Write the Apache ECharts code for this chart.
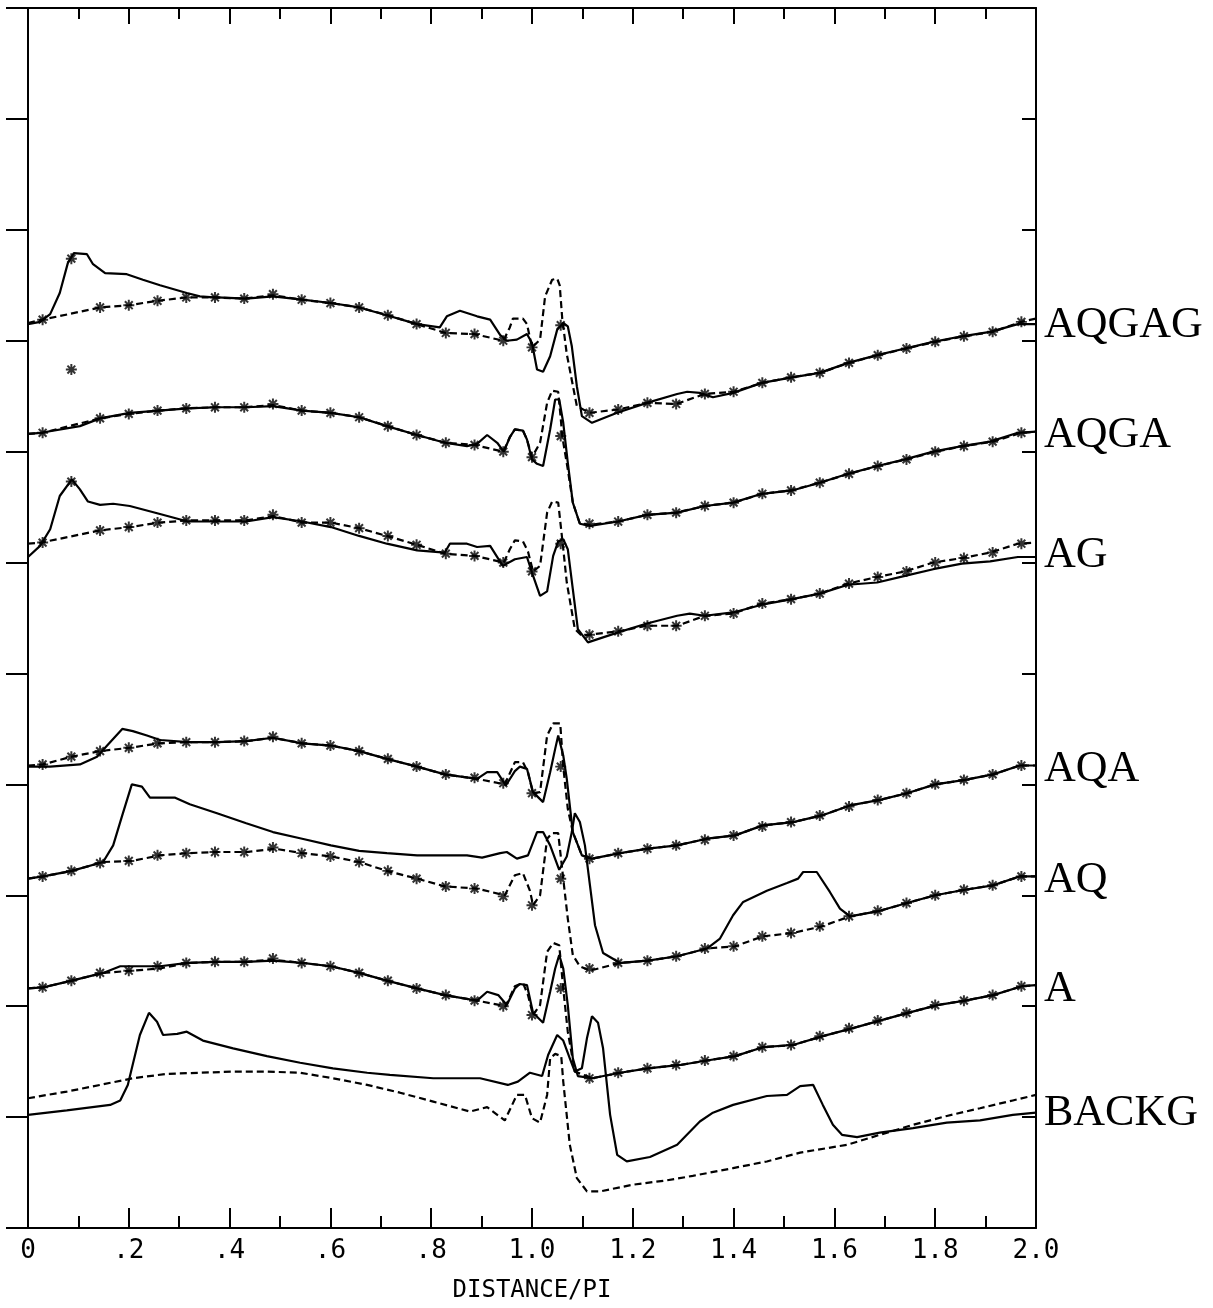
<!DOCTYPE html>
<html>
<head>
<meta charset="utf-8">
<script src="https://cdn.jsdelivr.net/npm/echarts@6/dist/echarts.min.js"></script>
<style>
html,body{margin:0;padding:0;background:#fff;}
#chart{width:1213px;height:1308px;}
</style>
</head>
<body>
<div id="chart"></div>
<script>
// ---------------- DATA (x = DISTANCE/PI, y = stacked trace value, 100 per tick) ----------------
const xTickLabels = ['0','.2','.4','.6','.8','1.0','1.2','1.4','1.6','1.8','2.0'];
const traceNames = ['AQGAG','AQGA','AG','AQA','AQ','A','BACKG'];
const starX = [0.029,0.086,0.143,0.2,0.257,0.314,0.371,0.429,0.486,0.543,0.6,0.657,0.714,0.771,0.829,0.886,0.943,1.0,1.057,1.114,1.171,1.229,1.286,1.343,1.4,1.457,1.514,1.571,1.629,1.686,1.743,1.8,1.857,1.914,1.971];

const aqgagObs = [[0,815],[0.024,817],[0.044,824],[0.063,843],[0.079,870],[0.091,879],[0.117,878],[0.129,869],[0.153,861],[0.196,860],[0.228,855],[0.262,850],[0.315,843],[0.341,840],[0.375,839],[0.433,838],[0.486,840],[0.544,837],[0.601,834],[0.657,830],[0.712,823],[0.772,815],[0.817,812],[0.831,822],[0.857,827],[0.891,822],[0.917,819],[0.937,805],[0.950,800],[0.970,801],[0.990,806],[1.0,798],[1.010,774],[1.022,772],[1.036,786],[1.050,810],[1.062,816],[1.071,813],[1.079,795],[1.089,759],[1.099,732],[1.119,726],[1.169,735],[1.228,744],[1.288,752],[1.308,754],[1.333,753],[1.359,749],[1.399,753],[1.456,762],[1.516,767],[1.571,771],[1.627,780],[1.685,787],[1.740,793],[1.796,799],[1.853,804],[1.909,808],[1.964,815],[2.0,815]];
const aqgagFit = [[0,816],[0.029,819],[0.143,830],[0.2,832],[0.257,836],[0.314,839],[0.371,839],[0.429,838],[0.486,841],[0.543,837],[0.6,834],[0.657,830],[0.714,823],[0.771,815],[0.829,807],[0.886,806],[0.943,800],[0.956,812],[0.962,820],[0.982,820],[0.990,815],[1.0,794],[1.016,801],[1.026,840],[1.040,855],[1.050,856],[1.055,850],[1.060,820],[1.069,788],[1.089,741],[1.114,735],[1.171,738],[1.229,744],[1.286,743],[1.343,752],[1.4,754],[1.457,762],[1.514,767],[1.571,771],[1.629,780],[1.686,787],[1.743,793],[1.8,799],[1.857,804],[1.914,808],[1.971,817],[2.0,820]];
const aqgagStars = [819,874,830,832,836,839,839,838,842,837,834,830,823,815,807,806,800,794,814,735,738,744,743,752,754,762,767,771,780,787,793,799,804,808,817];

const aqgaObs = [[0,716],[0.026,717],[0.103,723],[0.143,730],[0.202,735],[0.260,737],[0.317,739],[0.375,740],[0.433,740],[0.486,741],[0.544,737],[0.601,735],[0.657,731],[0.712,723],[0.772,715],[0.827,708],[0.871,705],[0.891,707],[0.911,715],[0.931,708],[0.944,700],[0.956,713],[0.966,720],[0.982,719],[0.990,711],[1.0,693],[1.010,689],[1.022,687],[1.036,720],[1.046,747],[1.054,747],[1.062,726],[1.071,690],[1.081,654],[1.095,635],[1.115,633],[1.171,637],[1.228,643],[1.288,645],[1.343,651],[1.399,654],[1.456,662],[1.516,665],[1.571,672],[1.627,680],[1.685,687],[1.740,693],[1.796,700],[1.853,705],[1.909,709],[1.964,717],[2.0,718]];
const aqgaFit = [[0,716],[0.029,717],[0.143,730],[0.2,734],[0.257,737],[0.314,739],[0.371,740],[0.429,740],[0.486,742],[0.543,737],[0.6,735],[0.657,731],[0.714,723],[0.771,715],[0.829,708],[0.886,706],[0.943,700],[0.956,713],[0.966,720],[0.982,719],[0.990,711],[1.0,695],[1.016,708],[1.030,744],[1.040,755],[1.052,754],[1.057,730],[1.060,714],[1.071,684],[1.081,654],[1.095,635],[1.114,634],[1.171,637],[1.229,643],[1.286,645],[1.343,651],[1.4,654],[1.457,662],[1.514,665],[1.571,672],[1.629,680],[1.686,687],[1.743,693],[1.8,700],[1.857,705],[1.914,709],[1.971,717],[2.0,718]];
const aqgaStars = [717,774,730,734,737,739,740,740,743,737,735,731,723,715,708,706,700,695,714,635,637,643,645,651,654,662,665,672,680,687,693,700,705,709,717];

const agObs = [[0,605],[0.024,615],[0.044,630],[0.063,660],[0.087,675],[0.103,666],[0.119,655],[0.143,652],[0.169,653],[0.202,651],[0.260,644],[0.317,637],[0.375,637],[0.433,637],[0.486,641],[0.544,637],[0.601,632],[0.657,624],[0.712,617],[0.772,611],[0.827,609],[0.837,617],[0.871,617],[0.891,614],[0.917,615],[0.942,597],[0.966,603],[0.990,605],[1.0,591],[1.016,570],[1.030,574],[1.042,606],[1.052,619],[1.062,621],[1.071,612],[1.081,576],[1.091,540],[1.111,528],[1.171,537],[1.228,545],[1.288,552],[1.313,554],[1.343,552],[1.399,555],[1.456,562],[1.516,567],[1.571,572],[1.627,580],[1.685,582],[1.740,588],[1.796,594],[1.853,599],[1.909,601],[1.964,605],[2.0,605]];
const agFit = [[0,617],[0.026,618],[0.143,629],[0.202,632],[0.260,636],[0.317,638],[0.375,638],[0.433,638],[0.486,642],[0.544,636],[0.601,636],[0.657,631],[0.712,624],[0.772,616],[0.827,608],[0.887,606],[0.944,600],[0.956,612],[0.966,620],[0.982,619],[0.992,610],[1.002,592],[1.016,597],[1.030,645],[1.040,655],[1.052,654],[1.060,621],[1.069,582],[1.085,540],[1.099,534],[1.115,535],[1.171,538],[1.228,543],[1.288,543],[1.343,552],[1.399,554],[1.456,563],[1.516,567],[1.571,572],[1.627,581],[1.685,587],[1.740,592],[1.796,600],[1.853,604],[1.909,609],[1.964,617],[2.0,618]];
const agStars = [618,673,629,632,636,638,638,638,643,636,636,631,624,616,608,606,600,592,617,535,538,543,543,552,554,563,567,572,581,587,592,600,604,609,617];

const aqaObs = [[0,416],[0.044,416],[0.103,418],[0.137,425],[0.157,435],[0.187,450],[0.208,448],[0.236,444],[0.262,440],[0.317,438],[0.375,438],[0.433,439],[0.486,442],[0.544,437],[0.601,435],[0.657,430],[0.712,423],[0.772,416],[0.827,409],[0.891,405],[0.911,411],[0.931,411],[0.948,399],[0.966,412],[0.976,416],[0.990,414],[1.002,393],[1.022,384],[1.036,411],[1.046,432],[1.052,444],[1.062,426],[1.069,405],[1.081,357],[1.099,336],[1.119,333],[1.175,338],[1.230,342],[1.288,345],[1.347,351],[1.403,354],[1.458,363],[1.518,366],[1.575,372],[1.631,381],[1.690,386],[1.744,392],[1.800,400],[1.859,404],[1.915,409],[1.968,417],[2.0,417]];
const aqaFit = [[0,417],[0.030,418],[0.087,425],[0.143,430],[0.202,433],[0.260,437],[0.317,438],[0.375,438],[0.433,439],[0.486,442],[0.544,437],[0.601,435],[0.657,430],[0.712,423],[0.772,416],[0.827,409],[0.891,405],[0.946,400],[0.966,420],[0.982,420],[0.992,411],[1.002,392],[1.016,393],[1.030,444],[1.042,455],[1.056,455],[1.062,416],[1.071,378],[1.081,357],[1.099,336],[1.119,333],[1.175,338],[1.230,342],[1.288,345],[1.347,351],[1.403,354],[1.458,363],[1.518,366],[1.575,372],[1.631,381],[1.690,386],[1.744,392],[1.800,400],[1.859,404],[1.915,409],[1.968,417],[2.0,417]];
const aqaStars = [418,425,430,433,437,438,438,439,443,437,435,430,423,416,409,406,401,392,416,333,338,342,345,350,354,362,366,372,380,386,392,400,404,409,417];

const aqObs = [[0,315],[0.030,317],[0.087,322],[0.149,330],[0.169,345],[0.187,372],[0.206,400],[0.226,398],[0.242,388],[0.292,388],[0.321,382],[0.375,374],[0.433,365],[0.486,357],[0.544,351],[0.601,345],[0.657,340],[0.712,338],[0.772,336],[0.827,336],[0.871,336],[0.901,334],[0.937,338],[0.950,339],[0.970,333],[0.992,336],[1.010,357],[1.022,357],[1.036,345],[1.054,323],[1.069,335],[1.079,357],[1.085,374],[1.095,366],[1.105,345],[1.115,309],[1.125,273],[1.141,248],[1.175,239],[1.230,241],[1.288,245],[1.347,252],[1.373,261],[1.399,282],[1.419,294],[1.466,304],[1.506,311],[1.528,315],[1.538,321],[1.565,321],[1.591,303],[1.611,288],[1.631,281],[1.690,286],[1.744,293],[1.800,300],[1.859,305],[1.915,309],[1.968,317],[2.0,317]];
const aqFit = [[0,315],[0.030,317],[0.087,322],[0.149,330],[0.206,331],[0.262,336],[0.317,338],[0.375,339],[0.433,339],[0.490,342],[0.544,338],[0.601,335],[0.657,330],[0.712,322],[0.772,315],[0.827,308],[0.891,306],[0.946,300],[0.966,318],[0.982,320],[0.996,304],[1.002,291],[1.016,300],[1.030,351],[1.040,356],[1.052,356],[1.062,315],[1.071,279],[1.081,246],[1.095,236],[1.115,232],[1.175,239],[1.230,241],[1.288,245],[1.347,252],[1.403,254],[1.458,263],[1.518,266],[1.575,272],[1.631,281],[1.690,286],[1.744,293],[1.800,300],[1.859,305],[1.915,309],[1.968,317],[2.0,317]];
const aqStars = [317,322,329,331,336,338,339,339,343,338,335,330,322,315,308,306,299,291,315,234,239,241,245,252,254,263,266,272,281,286,293,300,305,309,317];

const aObs = [[0,216],[0.030,217],[0.087,223],[0.149,230],[0.183,236],[0.206,236],[0.262,236],[0.317,239],[0.375,240],[0.433,240],[0.486,241],[0.544,239],[0.601,236],[0.657,230],[0.712,223],[0.772,216],[0.827,210],[0.891,205],[0.911,213],[0.933,210],[0.950,201],[0.966,216],[0.976,220],[0.990,219],[1.002,194],[1.022,185],[1.036,213],[1.046,234],[1.054,246],[1.062,234],[1.071,201],[1.081,153],[1.091,137],[1.119,135],[1.175,140],[1.230,144],[1.294,147],[1.347,151],[1.403,155],[1.458,163],[1.518,165],[1.577,173],[1.635,180],[1.690,187],[1.746,194],[1.804,201],[1.859,205],[1.915,210],[1.972,218],[2.0,219]];
const aFit = [[0,216],[0.030,217],[0.087,223],[0.149,230],[0.206,232],[0.262,234],[0.317,239],[0.375,240],[0.433,240],[0.486,242],[0.544,239],[0.601,236],[0.657,230],[0.712,223],[0.772,216],[0.827,210],[0.891,205],[0.948,200],[0.966,218],[0.982,221],[0.992,210],[1.002,192],[1.016,201],[1.030,249],[1.042,257],[1.054,255],[1.062,216],[1.071,177],[1.085,141],[1.119,135],[1.175,140],[1.230,144],[1.294,147],[1.347,151],[1.403,155],[1.458,163],[1.518,165],[1.577,173],[1.635,180],[1.690,187],[1.746,194],[1.804,201],[1.859,205],[1.915,210],[1.972,218],[2.0,219]];
const aStars = [217,223,230,232,236,239,240,240,243,239,236,230,223,216,210,205,200,192,216,135,140,144,147,151,155,163,165,173,180,187,194,201,205,210,218];

const backgObs = [[0,102],[0.077,106],[0.163,111],[0.183,115],[0.198,129],[0.222,174],[0.240,194],[0.256,186],[0.268,174],[0.296,175],[0.315,177],[0.347,169],[0.407,162],[0.474,155],[0.540,149],[0.605,144],[0.673,140],[0.718,138],[0.804,135],[0.897,135],[0.952,129],[0.972,132],[0.996,140],[1.020,137],[1.032,156],[1.050,174],[1.062,169],[1.075,153],[1.085,141],[1.099,144],[1.109,171],[1.119,191],[1.131,185],[1.141,162],[1.155,102],[1.169,66],[1.188,60],[1.234,64],[1.288,75],[1.333,96],[1.359,104],[1.399,111],[1.466,119],[1.506,120],[1.532,128],[1.558,129],[1.577,111],[1.597,93],[1.615,84],[1.645,82],[1.690,86],[1.756,90],[1.823,95],[1.889,97],[1.954,102],[2.0,104]];
const backgFit = [[0,117],[0.077,123],[0.143,129],[0.208,135],[0.276,139],[0.341,140],[0.407,141],[0.474,141],[0.540,140],[0.605,135],[0.673,129],[0.738,122],[0.804,114],[0.877,105],[0.911,109],[0.946,97],[0.970,120],[0.986,120],[1.000,99],[1.016,95],[1.030,120],[1.036,153],[1.046,157],[1.058,155],[1.062,132],[1.075,75],[1.089,45],[1.109,33],[1.135,33],[1.200,39],[1.268,43],[1.319,47],[1.399,54],[1.466,60],[1.532,68],[1.625,75],[1.690,84],[1.756,93],[1.823,101],[1.889,108],[1.954,115],[2.0,120]];

// ---------------- CHART ----------------
const chart = echarts.init(document.getElementById('chart'), null, {renderer: 'canvas'});
const INK = '#000';
const starPath = 'path://M4.1,0H5.9V10H4.1Z M0,4.1H10V5.9H0Z M0.8,2.1L2.1,0.8L9.2,7.9L7.9,9.2Z M7.9,0.8L9.2,2.1L2.1,9.2L0.8,7.9Z';
const labelFont = {fontFamily: '"Liberation Serif", "DejaVu Serif", serif', fontSize: 44, color: INK};
const monoFont = '"DejaVu Sans Mono", monospace';

function withLabel(s, label, offset) {
  if (label) s.endLabel = Object.assign({show: true, formatter: label, distance: 8, offset: offset || [0, 4]}, labelFont);
  return s;
}
function obsSeries(data, label, offset) {
  return withLabel({type: 'line', data: data, showSymbol: false, silent: true, z: 3,
    lineStyle: {color: INK, width: 2.2}}, label, offset);
}
function fitSeries(data, label, offset) {
  return withLabel({type: 'line', data: data, showSymbol: false, silent: true, z: 2,
    lineStyle: {color: INK, width: 2.2, type: [7, 4]}}, label, offset);
}
function starSeries(ys) {
  return {type: 'scatter', data: starX.map((x, i) => [x, ys[i]]), symbol: starPath,
    symbolSize: 11, silent: true, z: 4, itemStyle: {color: INK}};
}

const axisLineStyle = {show: true, onZero: false, lineStyle: {color: INK, width: 2}};
const xCommon = {type: 'value', min: 0, max: 2, interval: 0.2, splitLine: {show: false}, axisLine: axisLineStyle};

chart.setOption({
  animation: false,
  backgroundColor: '#fff',
  grid: {left: 28, right: 177, top: 8, bottom: 76},
  xAxis: [
    Object.assign({}, xCommon, {
      position: 'bottom',
      name: 'DISTANCE/PI', nameLocation: 'middle', nameGap: 51,
      nameTextStyle: {fontFamily: monoFont, fontSize: 24, color: INK},
      axisTick: {show: true, inside: true, length: 20, lineStyle: {color: INK, width: 2}},
      minorTick: {show: true, splitNumber: 2, length: 12, lineStyle: {color: INK, width: 2}},
      axisLabel: {show: true, margin: 10, fontFamily: monoFont, fontSize: 26, color: INK,
        formatter: v => xTickLabels[Math.round(v / 0.2)]}
    }),
    Object.assign({}, xCommon, {
      position: 'top',
      axisTick: {show: true, inside: true, length: 16, lineStyle: {color: INK, width: 2}},
      minorTick: {show: true, splitNumber: 2, length: 11, lineStyle: {color: INK, width: 2}},
      axisLabel: {show: false}
    })
  ],
  yAxis: [
    {type: 'value', min: 0, max: 1100, interval: 100, position: 'left', splitLine: {show: false},
      axisLine: axisLineStyle, axisLabel: {show: false},
      axisTick: {show: true, inside: false, length: 22, lineStyle: {color: INK, width: 2}}},
    {type: 'value', min: 0, max: 1100, interval: 100, position: 'right', splitLine: {show: false},
      axisLine: axisLineStyle, axisLabel: {show: false},
      axisTick: {show: true, inside: true, length: 14, lineStyle: {color: INK, width: 2}}}
  ],
  series: [
    fitSeries(aqgagFit, traceNames[0], [0, 7]), obsSeries(aqgagObs), starSeries(aqgagStars),
    fitSeries(aqgaFit, traceNames[1], [0, 4]), obsSeries(aqgaObs), starSeries(aqgaStars),
    fitSeries(agFit), obsSeries(agObs, traceNames[2], [0, -2]), starSeries(agStars),
    fitSeries(aqaFit, traceNames[3]), obsSeries(aqaObs), starSeries(aqaStars),
    fitSeries(aqFit, traceNames[4]), obsSeries(aqObs), starSeries(aqStars),
    fitSeries(aFit, traceNames[5]), obsSeries(aObs), starSeries(aStars),
    fitSeries(backgFit), obsSeries(backgObs, traceNames[6], [0, 1])
  ]
});
</script>
</body>
</html>
